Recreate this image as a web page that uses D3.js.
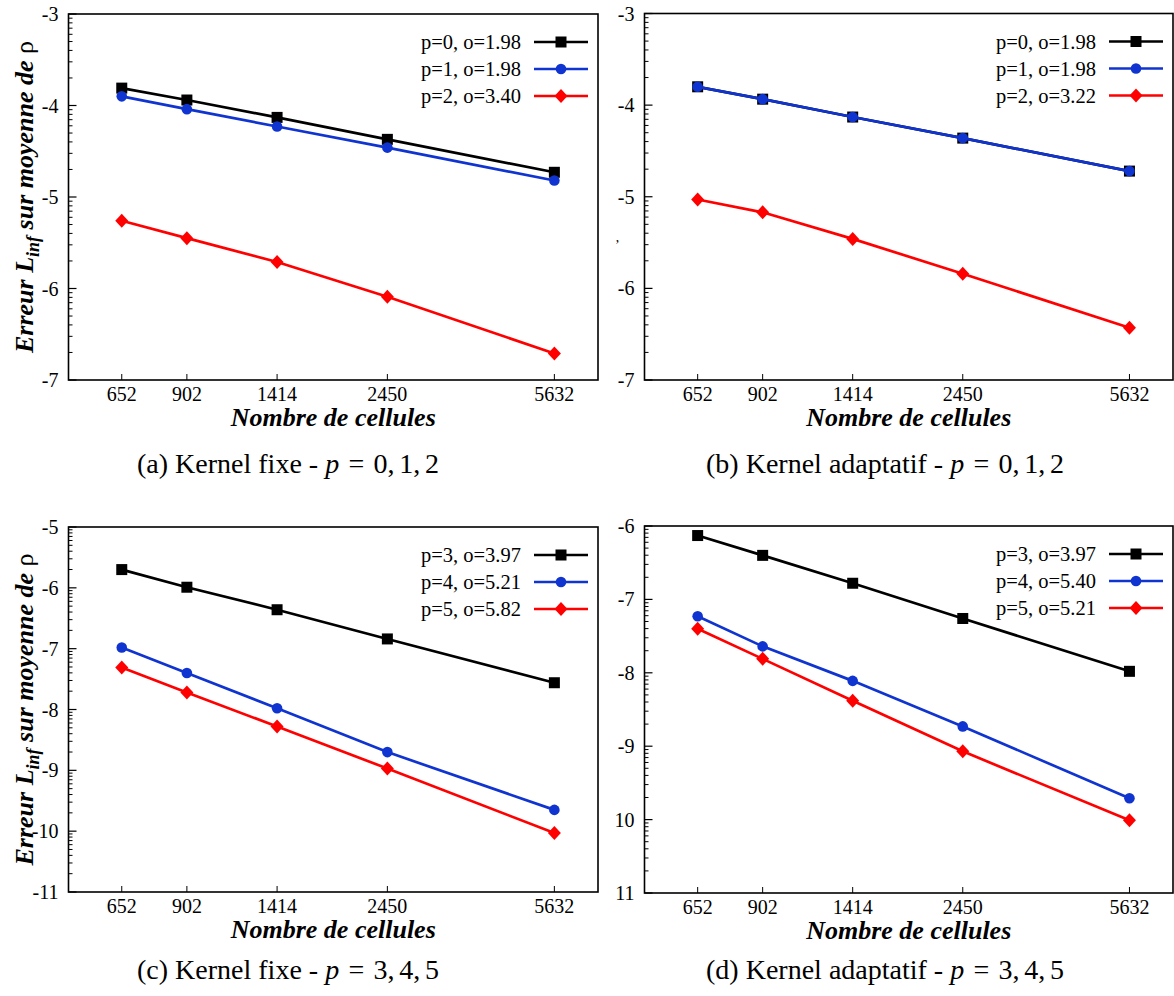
<!DOCTYPE html>
<html><head><meta charset="utf-8">
<script src="https://cdn.jsdelivr.net/npm/d3@7"></script>
<style>body{margin:0;background:#fff} svg{display:block}</style>
</head><body>
<svg id="chart" width="1174" height="996"></svg>
<script>
// ---------- data ----------
const xCells = [652, 902, 1414, 2450, 5632];
const xTickLabels = ["652", "902", "1414", "2450", "5632"];

// (a) Kernel fixe p=0,1,2  (log10 of L_inf error)
const aP0 = [-3.81, -3.94, -4.13, -4.37, -4.73];
const aP1 = [-3.90, -4.04, -4.23, -4.46, -4.82];
const aP2 = [-5.26, -5.45, -5.71, -6.09, -6.71];
// (b) Kernel adaptatif p=0,1,2
const bP0 = [-3.80, -3.935, -4.13, -4.36, -4.72];
const bP1 = [-3.80, -3.935, -4.13, -4.36, -4.72];
const bP2 = [-5.03, -5.17, -5.46, -5.84, -6.43];
// (c) Kernel fixe p=3,4,5
const cP3 = [-5.70, -5.99, -6.36, -6.84, -7.56];
const cP4 = [-6.98, -7.40, -7.98, -8.70, -9.65];
const cP5 = [-7.31, -7.72, -8.28, -8.97, -10.03];
// (d) Kernel adaptatif p=3,4,5
const dP3 = [-6.13, -6.40, -6.78, -7.26, -7.98];
const dP4 = [-7.23, -7.64, -8.11, -8.73, -9.71];
const dP5 = [-7.40, -7.81, -8.38, -9.07, -10.01];

const legendA = ["p=0, o=1.98", "p=1, o=1.98", "p=2, o=3.40"];
const legendB = ["p=0, o=1.98", "p=1, o=1.98", "p=2, o=3.22"];
const legendC = ["p=3, o=3.97", "p=4, o=5.21", "p=5, o=5.82"];
const legendD = ["p=3, o=3.97", "p=4, o=5.40", "p=5, o=5.21"];

const yTicksA = [-7, -6, -5, -4, -3];
const yLabelsA = ["-7", "-6", "-5", "-4", "-3"];
const yTicksC = [-11, -10, -9, -8, -7, -6, -5];
const yLabelsC = ["-11", "-10", "-9", "-8", "-7", "-6", "-5"];
const yTicksD = [-11, -10, -9, -8, -7, -6];
const yLabelsD = ["11", "10", "-9", "-8", "-7", "-6"];

const captionA = ["(a) Kernel fixe - ", "p", "\u2004=\u20040,\u20061,\u20062"];
const captionB = ["(b) Kernel adaptatif - ", "p", "\u2004=\u20040,\u20061,\u20062"];
const captionC = ["(c) Kernel fixe - ", "p", "\u2004=\u20043,\u20064,\u20065"];
const captionD = ["(d) Kernel adaptatif - ", "p", "\u2004=\u20043,\u20064,\u20065"];

const xTitle = "Nombre de cellules";

// ---------- styles ----------
const colors = ["#000000", "#1034d0", "#ff0000"];
const markers = ["square", "circle", "diamond"];
const serif = "'Liberation Serif', 'Times New Roman', serif";

const panels = [
  {box: {x0: 68.5, x1: 598, y0: 14, y1: 380}, yDom: [-7, -3], yTicks: yTicksA, yLabels: yLabelsA,
   series: [aP0, aP1, aP2], legend: legendA, yTitle: true, caption: captionA, capX: 288, capY: 473},
  {box: {x0: 644.5, x1: 1173, y0: 13.5, y1: 380}, yDom: [-7, -3], yTicks: yTicksA, yLabels: yLabelsA,
   series: [bP0, bP1, bP2], legend: legendB, yTitle: false, caption: captionB, capX: 885, capY: 473},
  {box: {x0: 68.5, x1: 598, y0: 527, y1: 892}, yDom: [-11, -5], yTicks: yTicksC, yLabels: yLabelsC,
   series: [cP3, cP4, cP5], legend: legendC, yTitle: true, caption: captionC, capX: 288, capY: 979},
  {box: {x0: 644.5, x1: 1173, y0: 526, y1: 893}, yDom: [-11, -6], yTicks: yTicksD, yLabels: yLabelsD,
   series: [dP3, dP4, dP5], legend: legendD, yTitle: false, caption: captionD, capX: 885, capY: 979}
];

const svg = d3.select("#chart");

function drawMarker(g, type, x, y, color) {
  if (type === "square") {
    g.append("rect").attr("x", x - 5.5).attr("y", y - 5.5).attr("width", 11).attr("height", 11).attr("fill", color);
  } else if (type === "circle") {
    g.append("circle").attr("cx", x).attr("cy", y).attr("r", 5.3).attr("fill", color);
  } else {
    g.append("path").attr("d", `M${x},${y - 7}L${x + 6.5},${y}L${x},${y + 7}L${x - 6.5},${y}Z`).attr("fill", color);
  }
}

panels.forEach((p) => {
  const b = p.box;
  const x = d3.scaleLog().domain([500, 7000]).range([b.x0, b.x1]);
  const y = d3.scaleLinear().domain(p.yDom).range([b.y1, b.y0]);
  const g = svg.append("g");

  // minor log ticks (inward)
  const minor = [];
  for (let m = p.yDom[0]; m < p.yDom[1]; m++) {
    for (let k = 2; k <= 9; k++) minor.push(m + Math.log10(k));
  }
  g.selectAll(null).data(minor).enter().append("line")
    .attr("x1", b.x0).attr("x2", b.x0 + 4)
    .attr("y1", d => y(d)).attr("y2", d => y(d))
    .attr("stroke", "#000").attr("stroke-width", 1);

  // major ticks and labels
  g.selectAll(null).data(p.yTicks).enter().append("line")
    .attr("x1", b.x0).attr("x2", b.x0 + 8)
    .attr("y1", d => y(d)).attr("y2", d => y(d))
    .attr("stroke", "#000").attr("stroke-width", 1.2);
  g.selectAll(null).data(p.yTicks).enter().append("text")
    .attr("x", b.x0 - 10).attr("y", d => y(d)).attr("dy", "0.35em")
    .attr("text-anchor", "end").attr("font-family", serif).attr("font-size", 20)
    .text((d, i) => p.yLabels[i]);

  // x ticks
  g.selectAll(null).data(xCells).enter().append("line")
    .attr("x1", d => x(d)).attr("x2", d => x(d))
    .attr("y1", b.y1).attr("y2", b.y1 - 6)
    .attr("stroke", "#000").attr("stroke-width", 1);
  g.selectAll(null).data(xCells).enter().append("text")
    .attr("x", d => x(d)).attr("y", b.y1 + 21)
    .attr("text-anchor", "middle").attr("font-family", serif).attr("font-size", 20)
    .text((d, i) => xTickLabels[i]);

  // frame
  g.append("rect").attr("x", b.x0).attr("y", b.y0)
    .attr("width", b.x1 - b.x0).attr("height", b.y1 - b.y0)
    .attr("fill", "none").attr("stroke", "#000").attr("stroke-width", 1.6);

  // series
  const line = d3.line().x((d, i) => x(xCells[i])).y(d => y(d));
  p.series.forEach((s, si) => {
    g.append("path").datum(s).attr("d", line)
      .attr("fill", "none").attr("stroke", colors[si]).attr("stroke-width", 2.7);
    s.forEach((v, i) => drawMarker(g, markers[si], x(xCells[i]), y(v), colors[si]));
  });

  // legend
  p.legend.forEach((lab, i) => {
    const ly = b.y0 + 28 + i * 27;
    const lx1 = b.x1 - 64, lx2 = b.x1 - 10;
    g.append("text").attr("x", lx1 - 13).attr("y", ly).attr("dy", "0.35em")
      .attr("text-anchor", "end").attr("font-family", serif).attr("font-size", 20.5).text(lab);
    g.append("line").attr("x1", lx1).attr("x2", lx2).attr("y1", ly).attr("y2", ly)
      .attr("stroke", colors[i]).attr("stroke-width", 2.7);
    drawMarker(g, markers[i], (lx1 + lx2) / 2, ly, colors[i]);
  });

  // x title
  g.append("text").attr("x", (b.x0 + b.x1) / 2).attr("y", b.y1 + 46)
    .attr("text-anchor", "middle").attr("font-family", serif).attr("font-size", 26)
    .attr("font-weight", "bold").attr("font-style", "italic").text(xTitle);

  // y title
  if (p.yTitle) {
    const cy = (b.y0 + b.y1) / 2;
    const t = g.append("text").attr("transform", `translate(33,${cy}) rotate(-90)`)
      .attr("text-anchor", "middle").attr("font-family", serif).attr("font-size", 26)
      .attr("font-weight", "bold").attr("font-style", "italic");
    t.append("tspan").text("Erreur L");
    t.append("tspan").attr("font-size", 18).attr("dy", 6).text("inf");
    t.append("tspan").attr("dy", -6).text(" sur moyenne de ");
    t.append("tspan").attr("font-weight", "normal").attr("font-style", "normal").text("ρ");
  }

  // caption
  const c = g.append("text").attr("x", p.capX).attr("y", p.capY)
    .attr("text-anchor", "middle").attr("font-family", serif).attr("font-size", 28)
    .style("white-space", "pre");
  c.append("tspan").text(p.caption[0]);
  c.append("tspan").attr("font-style", "italic").text(p.caption[1]);
  c.append("tspan").text(p.caption[2]);
});

// small stray mark left of panel (b)
svg.append("text").attr("x", 615).attr("y", 250).attr("font-family", serif)
  .attr("font-size", 14).text("’");
</script>
</body></html>
